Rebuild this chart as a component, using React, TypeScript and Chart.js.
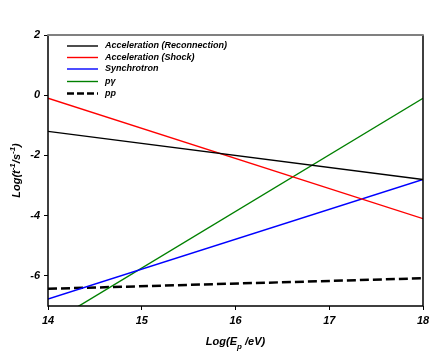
import React, { useEffect, useRef } from "react";
import { Chart, registerables } from "chart.js";

Chart.register(...registerables);

const xValues = [14, 18];
const reconnection = [-1.2, -2.8];
const shock = [-0.1, -4.1];
const synchrotron = [-6.77, -2.8];
const pGamma = [-7.62, -0.1];
const pp = [-6.43, -6.08];
const yTickValues = [2, 0, -2, -4, -6];

const seriesNames = ["Acceleration (Reconnection)", "Acceleration (Shock)", "Synchrotron", "p\u03b3", "pp"];
const seriesColors = ["#000000", "#ff0000", "#0000ff", "#008000", "#000000"];

const FONT = "'Liberation Sans', Arial, sans-serif";

const toPts = (ys: number[]) => ys.map((y, i) => ({ x: xValues[i], y }));

const decorPlugin = {
  id: "decor",
  afterDraw(chart: any) {
    const { ctx, chartArea } = chart;
    const { left, right, top, bottom } = chartArea;
    ctx.save();
    // frame
    ctx.strokeStyle = "#000";
    ctx.lineWidth = 1.5;
    ctx.beginPath();
    ctx.moveTo(left, top);
    ctx.lineTo(left, bottom);
    ctx.lineTo(right, bottom);
    ctx.lineTo(right, top);
    ctx.stroke();
    ctx.strokeStyle = "#808080";
    ctx.lineWidth = 2;
    ctx.beginPath();
    ctx.moveTo(left - 0.75, top);
    ctx.lineTo(right + 0.75, top);
    ctx.stroke();

    // legend
    const rows = [46, 57.5, 69, 81.5, 93.5];
    ctx.font = `italic bold 9px ${FONT}`;
    ctx.textBaseline = "middle";
    ctx.textAlign = "left";
    rows.forEach((y, i) => {
      ctx.strokeStyle = seriesColors[i];
      ctx.lineWidth = i === 4 ? 2.5 : 1.4;
      ctx.setLineDash(i === 4 ? [7, 3] : []);
      ctx.beginPath();
      ctx.moveTo(67, y);
      ctx.lineTo(98, y);
      ctx.stroke();
      ctx.setLineDash([]);
      ctx.fillStyle = "#000";
      ctx.fillText(seriesNames[i], 105, y);
    });

    // x title
    const f = `italic bold 11px ${FONT}`;
    const fs = `italic bold 8px ${FONT}`;
    const parts: [string, string, number][] = [
      ["Log(E", f, 0],
      ["p", fs, 4],
      [" /eV)", f, 0],
    ];
    let w = 0;
    parts.forEach(([t, font]) => {
      ctx.font = font;
      w += ctx.measureText(t).width;
    });
    let x = (left + right) / 2 - w / 2;
    const ty = 341;
    ctx.textBaseline = "alphabetic";
    parts.forEach(([t, font, dy]) => {
      ctx.font = font;
      ctx.fillText(t, x, ty + 4 + dy);
      x += ctx.measureText(t).width;
    });

    // y title
    const yparts: [string, string, number][] = [
      ["Log(t", f, 0],
      ["-1", fs, -5],
      ["/s", f, 0],
      ["-1", fs, -5],
      [")", f, 0],
    ];
    let wy = 0;
    yparts.forEach(([t, font]) => {
      ctx.font = font;
      wy += ctx.measureText(t).width;
    });
    ctx.translate(16, (top + bottom) / 2);
    ctx.rotate(-Math.PI / 2);
    let xx = -wy / 2;
    yparts.forEach(([t, font, dy]) => {
      ctx.font = font;
      ctx.fillText(t, xx, 4 + dy);
      xx += ctx.measureText(t).width;
    });
    ctx.restore();
  },
};

export default function App() {
  const ref = useRef<HTMLCanvasElement>(null);
  useEffect(() => {
    const mk = (label: string, ys: number[], color: string, width: number, dash: number[] = []) => ({
      label,
      data: toPts(ys),
      borderColor: color,
      backgroundColor: color,
      borderWidth: width,
      borderDash: dash,
      pointRadius: 0,
      fill: false,
      tension: 0,
    });
    const chart = new Chart(ref.current!, {
      type: "line",
      data: {
        datasets: [
          mk(seriesNames[0], reconnection, seriesColors[0], 1.4),
          mk(seriesNames[1], shock, seriesColors[1], 1.4),
          mk(seriesNames[2], synchrotron, seriesColors[2], 1.4),
          mk(seriesNames[3], pGamma, seriesColors[3], 1.4),
          mk(seriesNames[4], pp, seriesColors[4], 2.5, [9, 4]),
        ],
      },
      options: {
        animation: false,
        responsive: false,
        layout: { padding: { left: 0, right: 20, top: 35, bottom: 0 } },
        plugins: { legend: { display: false }, tooltip: { enabled: false } },
        scales: {
          x: {
            type: "linear",
            min: 14,
            max: 18,
            ticks: {
              stepSize: 1,
              color: "#000",
              font: { family: FONT, size: 11, weight: "bold", style: "italic" },
              padding: 4,
              maxRotation: 0,
            },
            grid: { drawOnChartArea: false, tickLength: 4, color: "#000", lineWidth: 1 },
            border: { display: false },
            afterFit: (s: any) => {
              s.height = 49;
            },
          },
          y: {
            min: -7,
            max: 2,
            afterBuildTicks: (s: any) => {
              s.ticks = yTickValues.map((v) => ({ value: v }));
            },
            ticks: {
              color: "#000",
              font: { family: FONT, size: 11, weight: "bold", style: "italic" },
              padding: 4,
            },
            grid: { drawOnChartArea: false, tickLength: 4, color: "#000", lineWidth: 1 },
            border: { display: false },
            afterFit: (s: any) => {
              s.width = 48;
            },
          },
        },
      },
      plugins: [decorPlugin],
    });
    return () => chart.destroy();
  }, []);
  return (
    <div style={{ position: "fixed", left: 0, top: 0, width: 443, height: 355, background: "#fff" }}>
      <canvas ref={ref} width={443} height={355} style={{ width: 443, height: 355 }} />
    </div>
  );
}
